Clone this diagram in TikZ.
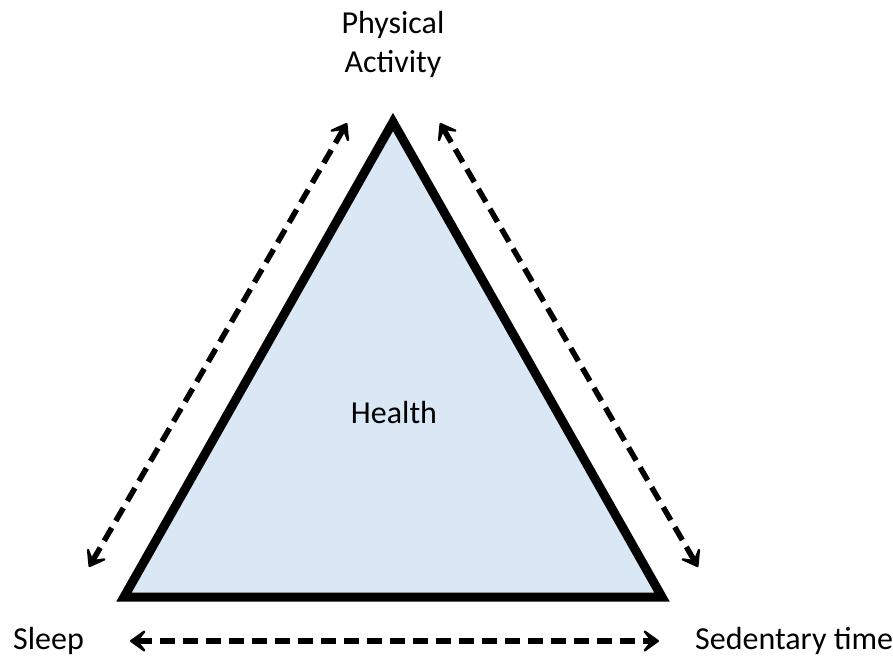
\documentclass[tikz,border=0pt]{standalone}
\usepackage{fontspec}
\setmainfont{Carlito}
\usetikzlibrary{arrows.meta}
\begin{document}
\begin{tikzpicture}[x=1pt,y=-1pt,
  tri/.style={draw=black,line width=9pt,fill={rgb,255:red,218;green,232;blue,245},line join=miter},
  rel/.style={line width=5.5pt,dash pattern=on 15pt off 8pt,{Stealth[length=21pt,width=30pt,inset=12pt,round]}-{Stealth[length=21pt,width=30pt,inset=12pt,round]}},
  lbl/.style={font=\fontsize{32}{39}\selectfont,align=center,inner sep=0pt}]
\useasboundingbox (0,0) rectangle (893,657);
\coordinate (T) at (393,122);
\coordinate (L) at (124,597);
\coordinate (R) at (662,597);
\draw[tri] (T) -- (L) -- (R) -- cycle;
\node[lbl] (pa) at (393,44) {Physical\\Activity};
\node[lbl,anchor=base] (h) at (394,423) {Health};
\node[lbl,anchor=base west] (s) at (13,649) {Sleep};
\node[lbl,anchor=base west] (st) at (695,649) {Sedentary time};
\coordinate (a1) at (89,567);
\coordinate (a2) at (347,123);
\coordinate (b1) at (440,123);
\coordinate (b2) at (698,567);
\coordinate (c1) at (130,641);
\coordinate (c2) at (659,641);
\draw[rel] (a1) -- (a2);
\draw[rel] (b1) -- (b2);
\draw[rel] (c1) -- (c2);
\end{tikzpicture}
\end{document}
